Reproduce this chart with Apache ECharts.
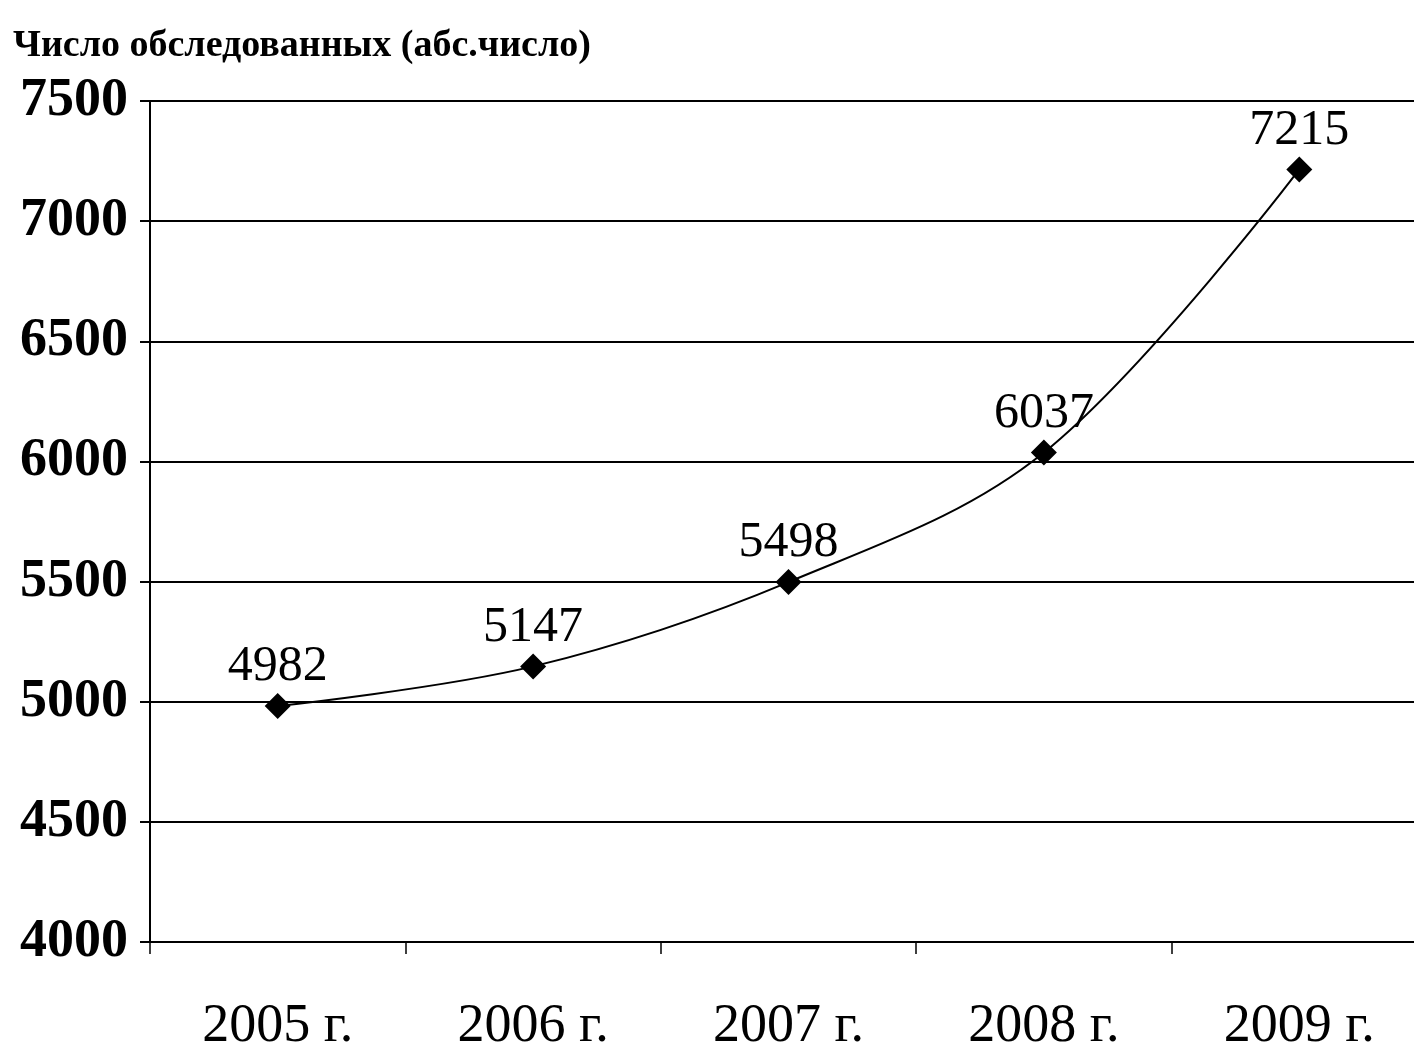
<!DOCTYPE html>
<html>
<head>
<meta charset="utf-8">
<script src="https://cdn.jsdelivr.net/npm/echarts@6/dist/echarts.min.js"></script>
<style>
  html, body { margin: 0; padding: 0; background: #fff; }
  #chart { width: 1414px; height: 1044px; }
</style>
</head>
<body>
<div id="chart"></div>
<script>
// данные
var years = ['2005 г.', '2006 г.', '2007 г.', '2008 г.', '2009 г.'];
var examined = [4982, 5147, 5498, 6037, 7215];
var yTicks = [4000, 4500, 5000, 5500, 6000, 6500, 7000, 7500];

var myChart = echarts.init(document.getElementById('chart'));

var option = {
  backgroundColor: '#fff',
  animation: false,
  title: {
    text: 'Число обследованных (абс.число)',
    left: 8,
    top: 22,
    textStyle: {
      fontFamily: '"Liberation Serif", "DejaVu Serif", serif',
      fontSize: 38,
      fontWeight: 'bold',
      color: '#000'
    }
  },
  grid: {
    left: 150,
    top: 101,
    width: 1277,
    bottom: 102,
    outerBoundsMode: 'none',
    containLabel: false
  },
  xAxis: {
    type: 'category',
    data: years,
    boundaryGap: true,
    axisLine: { lineStyle: { color: '#000', width: 2 } },
    axisTick: { show: true, length: 12, lineStyle: { color: '#000', width: 1.5 } },
    axisLabel: {
      margin: 58,
      fontFamily: '"Liberation Serif", "DejaVu Serif", serif',
      fontSize: 54,
      color: '#000'
    }
  },
  yAxis: {
    type: 'value',
    min: yTicks[0],
    max: yTicks[yTicks.length - 1],
    interval: 500,
    axisLine: { show: true, lineStyle: { color: '#000', width: 2 } },
    axisTick: { show: true, length: 10, lineStyle: { color: '#000', width: 2 } },
    splitLine: { lineStyle: { color: '#000', width: 2 } },
    axisLabel: {
      margin: 22,
      fontFamily: '"Liberation Serif", "DejaVu Serif", serif',
      fontSize: 54,
      fontWeight: 'bold',
      color: '#000',
      formatter: function (v) { return String(v); }
    }
  },
  series: [{
    name: 'Число обследованных',
    type: 'line',
    data: examined,
    smooth: 0.35,
    symbol: 'diamond',
    symbolSize: 26,
    itemStyle: { color: '#000' },
    lineStyle: { color: '#000', width: 2 },
    label: {
      show: true,
      position: 'top',
      distance: 1,
      fontFamily: '"Liberation Serif", "DejaVu Serif", serif',
      fontSize: 50,
      color: '#000'
    }
  }]
};

myChart.setOption(option);
</script>
</body>
</html>
